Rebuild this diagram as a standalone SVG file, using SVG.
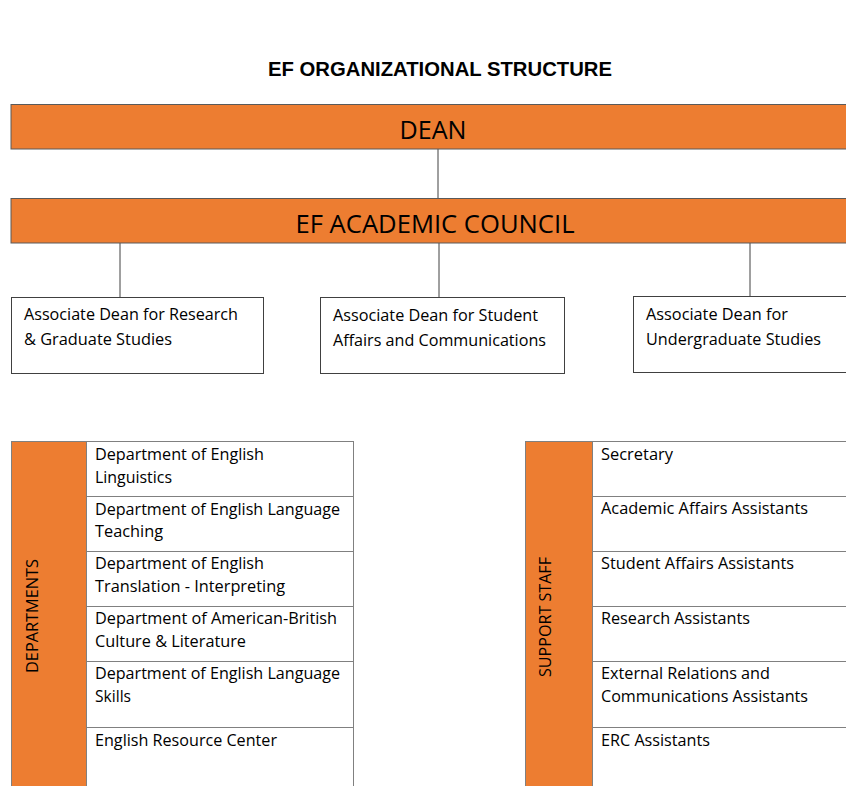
<svg xmlns="http://www.w3.org/2000/svg" width="846" height="786" viewBox="0 0 846 786">
<style>
.bar{fill:#ED7D31;stroke:#5a5a5a;stroke-width:1}
.box{fill:#fff;stroke:#404040;stroke-width:1}
.cell{fill:#fff;stroke:#808080;stroke-width:1}
.side{fill:#ED7D31;stroke:#808080;stroke-width:1}
.cal{font-family:"Open Sans","Liberation Sans",sans-serif;fill:#000}
.t{font-size:16px;font-family:"Open Sans","Liberation Sans",sans-serif;fill:#000}
.conn line{stroke:#404040;stroke-width:1}
</style>
<rect width="846" height="786" fill="#fff"/>
<text x="440" y="76" text-anchor="middle" font-family="Liberation Sans,sans-serif" font-weight="bold" font-size="20" textLength="344" lengthAdjust="spacingAndGlyphs" fill="#000">EF ORGANIZATIONAL STRUCTURE</text>
<g id="connectors" class="conn">
<line x1="438" y1="149" x2="438" y2="198"/>
<line x1="120" y1="243" x2="120" y2="297"/>
<line x1="439" y1="243" x2="439" y2="297"/>
<line x1="750" y1="243" x2="750" y2="296"/>
</g>
<g id="dean">
<rect class="bar" x="11" y="104.5" width="840" height="44.5"/>
<text class="cal" x="433" y="139" text-anchor="middle" font-size="25" textLength="67" lengthAdjust="spacingAndGlyphs">DEAN</text>
</g>
<g id="council">
<rect class="bar" x="11" y="198.5" width="840" height="44.5"/>
<text class="cal" x="435" y="233" text-anchor="middle" font-size="26" textLength="279" lengthAdjust="spacingAndGlyphs">EF ACADEMIC COUNCIL</text>
</g>
<g id="ad-research">
<rect class="box" x="11.5" y="297.5" width="252" height="76"/>
<text class="cal" font-size="16" x="24" y="320" textLength="214" lengthAdjust="spacingAndGlyphs">Associate Dean for Research</text>
<text class="cal" font-size="16" x="24" y="345" textLength="148" lengthAdjust="spacingAndGlyphs">&amp; Graduate Studies</text>
</g>
<g id="ad-student">
<rect class="box" x="320.5" y="297.5" width="244" height="76"/>
<text class="cal" font-size="16" x="333" y="321" textLength="205" lengthAdjust="spacingAndGlyphs">Associate Dean for Student</text>
<text class="cal" font-size="16" x="333" y="346" textLength="213" lengthAdjust="spacingAndGlyphs">Affairs and Communications</text>
</g>
<g id="ad-undergrad">
<rect class="box" x="633.5" y="296.5" width="220" height="76"/>
<text class="cal" font-size="16" x="646" y="320" textLength="142" lengthAdjust="spacingAndGlyphs">Associate Dean for</text>
<text class="cal" font-size="16" x="646" y="345" textLength="175" lengthAdjust="spacingAndGlyphs">Undergraduate Studies</text>
</g>
<g id="departments">
<rect class="side" x="11.5" y="441.5" width="75" height="350"/>
<text class="t" transform="translate(38,616) rotate(-90)" text-anchor="middle" textLength="114" lengthAdjust="spacingAndGlyphs">DEPARTMENTS</text>
<rect class="cell" x="86.5" y="441.5" width="267" height="55"/>
<rect class="cell" x="86.5" y="496.5" width="267" height="55"/>
<rect class="cell" x="86.5" y="551.5" width="267" height="55"/>
<rect class="cell" x="86.5" y="606.5" width="267" height="55"/>
<rect class="cell" x="86.5" y="661.5" width="267" height="66"/>
<rect class="cell" x="86.5" y="727.5" width="267" height="64"/>
<text class="t" x="95" y="460" textLength="169" lengthAdjust="spacingAndGlyphs">Department of English</text>
<text class="t" x="95" y="483" textLength="77" lengthAdjust="spacingAndGlyphs">Linguistics</text>
<text class="t" x="95" y="515" textLength="245" lengthAdjust="spacingAndGlyphs">Department of English Language</text>
<text class="t" x="95" y="537" textLength="68" lengthAdjust="spacingAndGlyphs">Teaching</text>
<text class="t" x="95" y="569" textLength="169" lengthAdjust="spacingAndGlyphs">Department of English</text>
<text class="t" x="95" y="592" textLength="190" lengthAdjust="spacingAndGlyphs">Translation - Interpreting</text>
<text class="t" x="95" y="624" textLength="242" lengthAdjust="spacingAndGlyphs">Department of American-British</text>
<text class="t" x="95" y="647" textLength="151" lengthAdjust="spacingAndGlyphs">Culture &amp; Literature</text>
<text class="t" x="95" y="679" textLength="245" lengthAdjust="spacingAndGlyphs">Department of English Language</text>
<text class="t" x="95" y="702" textLength="36" lengthAdjust="spacingAndGlyphs">Skills</text>
<text class="t" x="95" y="746" textLength="182" lengthAdjust="spacingAndGlyphs">English Resource Center</text>
</g>
<g id="support-staff">
<rect class="side" x="525.5" y="441.5" width="67" height="350"/>
<text class="t" transform="translate(551,617) rotate(-90)" text-anchor="middle" textLength="120" lengthAdjust="spacingAndGlyphs">SUPPORT STAFF</text>
<rect class="cell" x="592.5" y="441.5" width="260" height="55"/>
<rect class="cell" x="592.5" y="496.5" width="260" height="55"/>
<rect class="cell" x="592.5" y="551.5" width="260" height="55"/>
<rect class="cell" x="592.5" y="606.5" width="260" height="55"/>
<rect class="cell" x="592.5" y="661.5" width="260" height="66"/>
<rect class="cell" x="592.5" y="727.5" width="260" height="64"/>
<text class="t" x="601" y="460" textLength="72" lengthAdjust="spacingAndGlyphs">Secretary</text>
<text class="t" x="601" y="514" textLength="207" lengthAdjust="spacingAndGlyphs">Academic Affairs Assistants</text>
<text class="t" x="601" y="569" textLength="193" lengthAdjust="spacingAndGlyphs">Student Affairs Assistants</text>
<text class="t" x="601" y="624" textLength="149" lengthAdjust="spacingAndGlyphs">Research Assistants</text>
<text class="t" x="601" y="679" textLength="169" lengthAdjust="spacingAndGlyphs">External Relations and</text>
<text class="t" x="601" y="702" textLength="207" lengthAdjust="spacingAndGlyphs">Communications Assistants</text>
<text class="t" x="601" y="746" textLength="109" lengthAdjust="spacingAndGlyphs">ERC Assistants</text>
</g>
</svg>
